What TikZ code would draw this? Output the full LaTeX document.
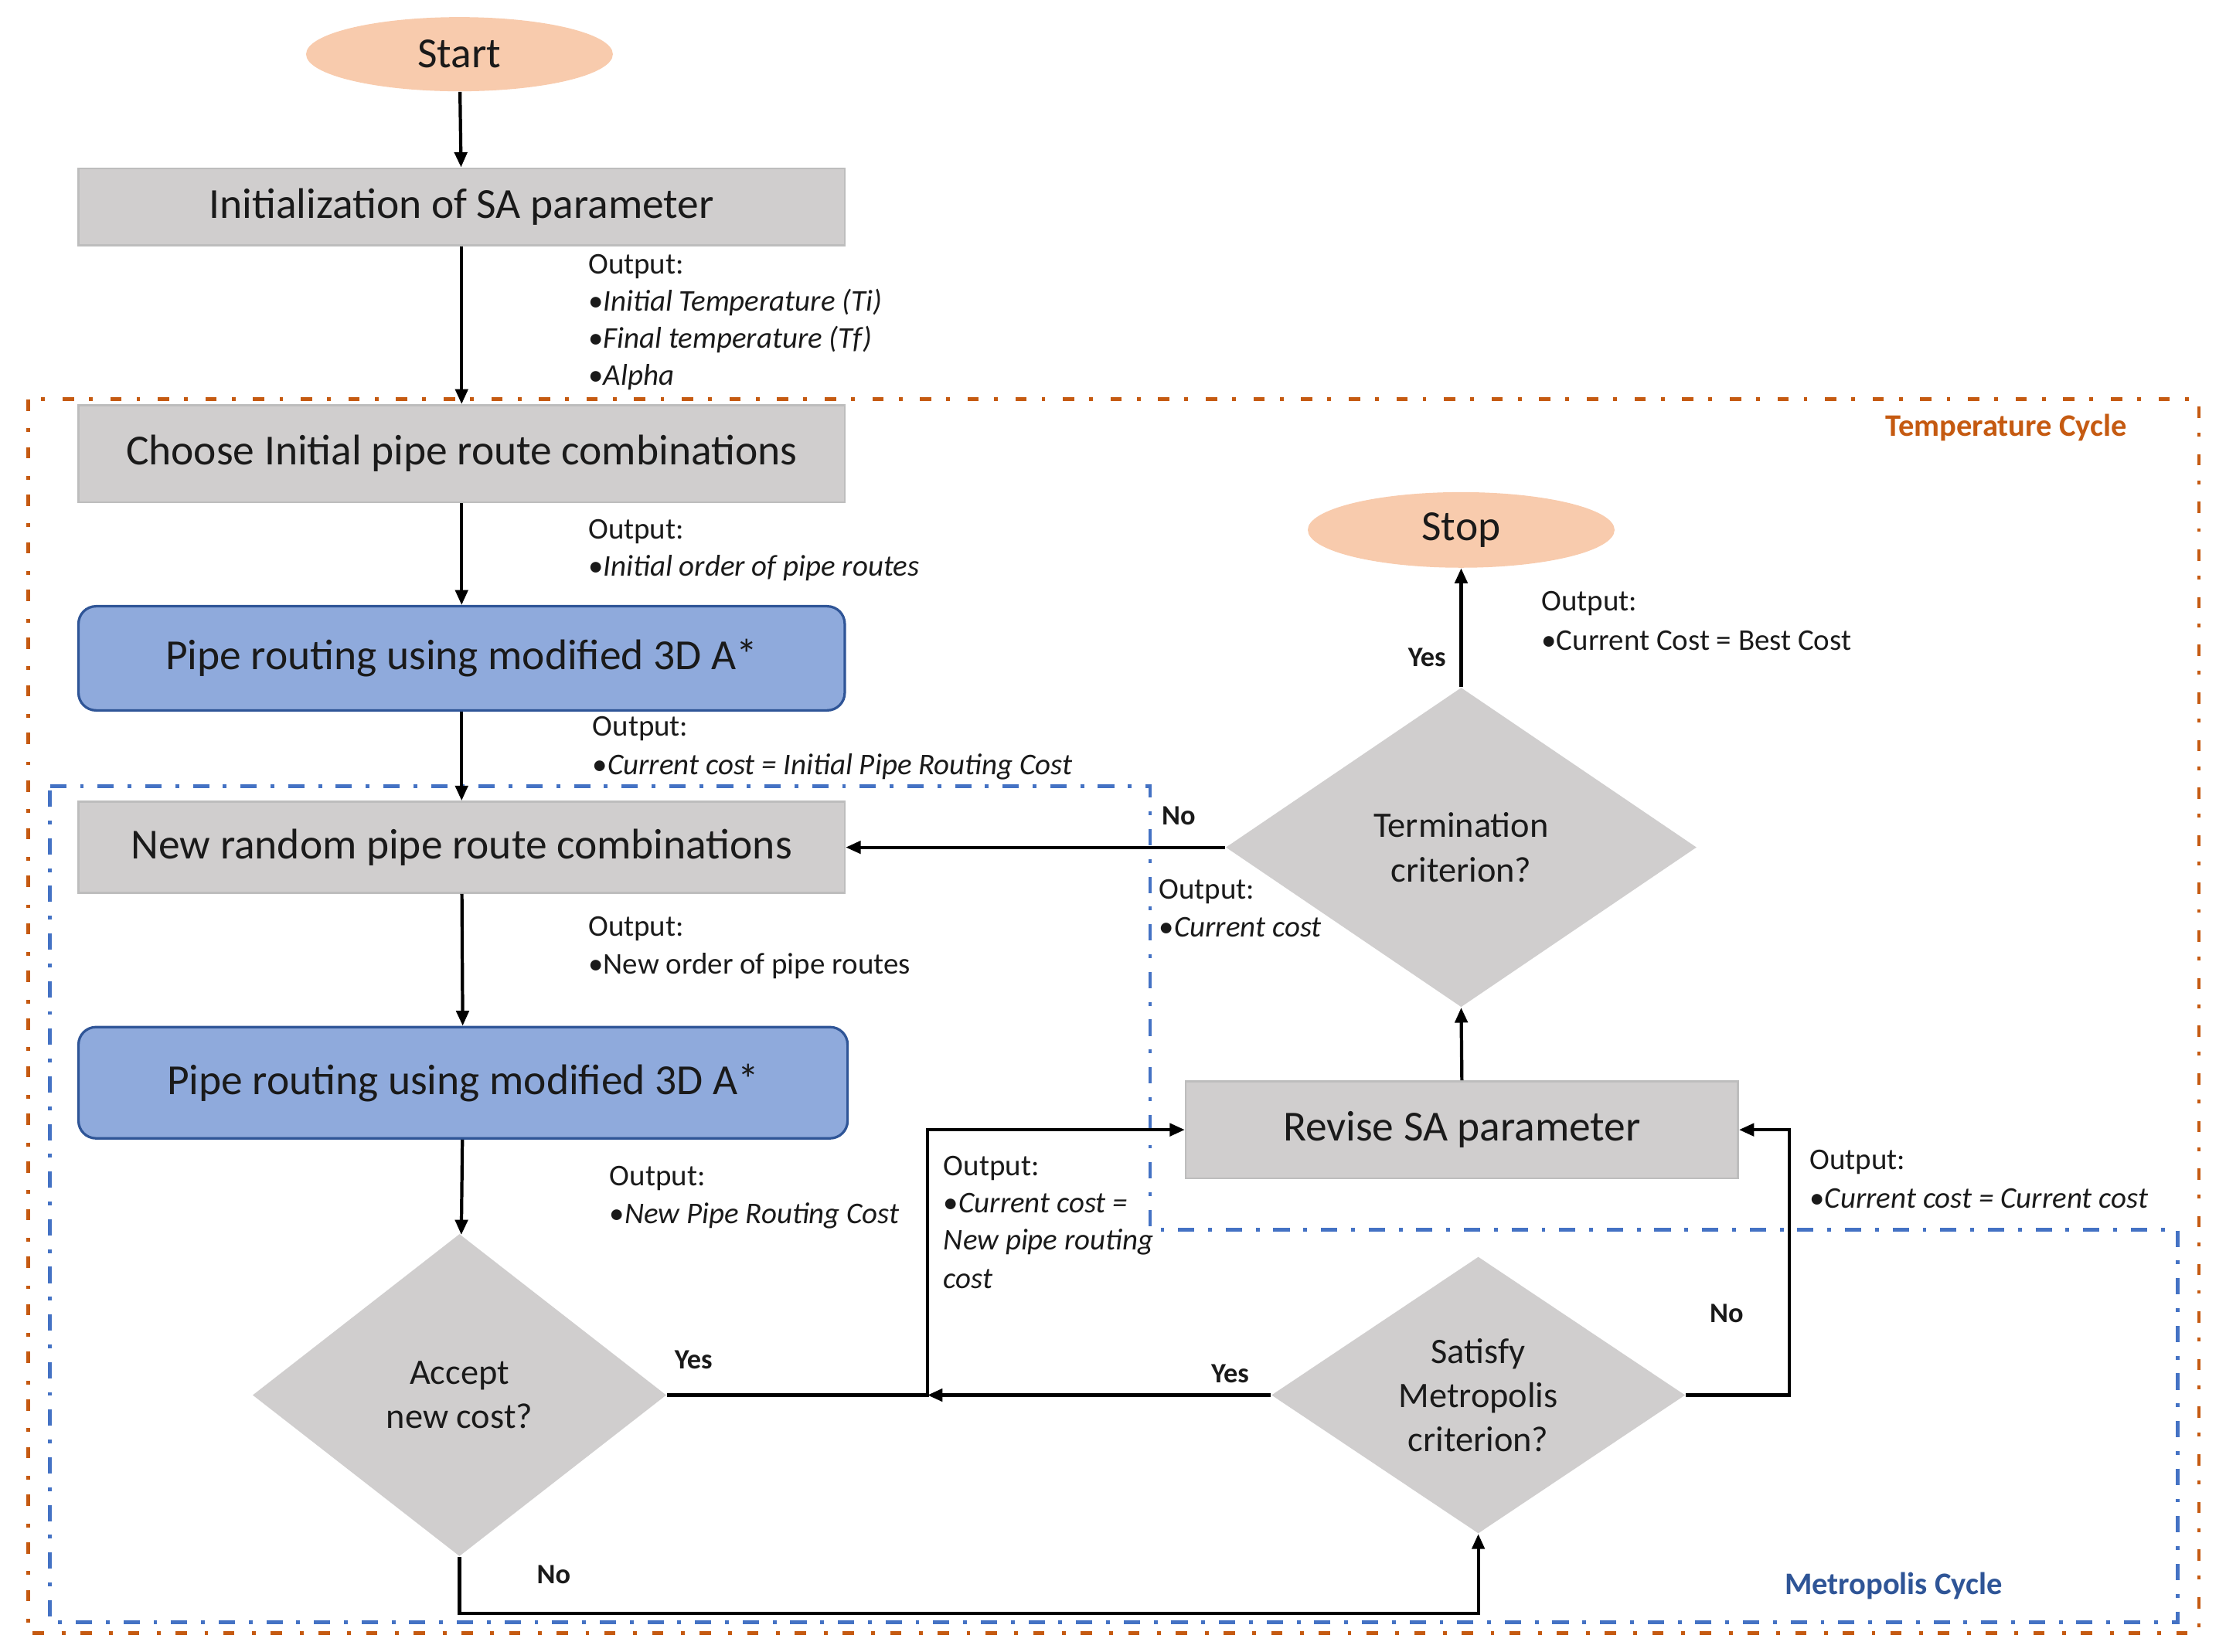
\documentclass[tikz,border=0pt]{standalone}
\usepackage{fontspec}
\setmainfont{Carlito}
\usetikzlibrary{shapes.geometric,arrows.meta}
\definecolor{peach}{HTML}{F8CBAD}
\definecolor{boxgray}{HTML}{D0CECE}
\definecolor{boxedge}{HTML}{BDBDBD}
\definecolor{pipeblue}{HTML}{8FAADC}
\definecolor{pipeedge}{HTML}{2F5597}
\definecolor{tcyc}{HTML}{C55A11}
\definecolor{mline}{HTML}{4472C4}
\definecolor{mtext}{HTML}{2F5597}
\definecolor{ink}{HTML}{1A1A1A}
\newlength\ux
\setlength\ux{0.02cm}
\tikzset{
  boxtext/.style={font=\fontsize{17.1pt}{20pt}\selectfont, text=ink},
  graybox/.style={rectangle, fill=boxgray, draw=boxedge, line width=0.8pt, boxtext, inner sep=0pt},
  bluebox/.style={rectangle, rounded corners=7pt, fill=pipeblue, draw=pipeedge, line width=1pt, boxtext, inner sep=0pt},
  term/.style={ellipse, fill=peach, draw=none, boxtext, inner sep=0pt},
  decision/.style={diamond, fill=boxgray, draw=none, inner sep=0pt, align=center, text=ink,
    font=\fontsize{14.3pt}{17.6pt}\selectfont},
  outtxt/.style={anchor=base west, inner sep=0pt, text=ink, font=\fontsize{12pt}{14pt}\selectfont},
  lbl/.style={inner sep=0pt, text=ink, font=\fontsize{11.2pt}{13pt}\selectfont\bfseries},
  arr/.style={line width=1.3pt, -{Triangle[length=6pt,width=5pt]}},
  tdash/.style={line width=1.5pt, dash pattern=on 4.5pt off 7pt on 1.5pt off 6pt},
  mdash/.style={line width=1.5pt, dash pattern=on 6.5pt off 5.5pt on 1.5pt off 5.5pt},
}
\begin{document}
\begin{tikzpicture}[x={(0.02cm,0)}, y={(0,-0.02cm)}]
\useasboundingbox (0,0) rectangle (1560,1158);

% cycle frames
\draw[tdash, draw=tcyc] (20,280) rectangle (1541,1145);
\draw[mdash, draw=mline] (35,551) -- (806,551) -- (806,862) -- (1526,862) -- (1526,1137) -- (35,1137) -- cycle;
\node[inner sep=0pt, text=tcyc, font=\fontsize{12.5pt}{14pt}\selectfont\bfseries] (tlabel) at (1406,300) {Temperature Cycle};
\node[inner sep=0pt, text=mtext, font=\fontsize{12.5pt}{14pt}\selectfont\bfseries] (mlabel) at (1327,1112) {Metropolis Cycle};

% nodes
\node[term, minimum width=215\ux, minimum height=52\ux] (start) at (322,38) {Start};
\node[graybox, minimum width=537\ux, minimum height=54\ux] (init) at (323.5,145) {Initialization of SA parameter};
\node[graybox, minimum width=537\ux, minimum height=68\ux] (choose) at (323.5,318) {Choose Initial pipe route combinations};
\node[bluebox, minimum width=537\ux, minimum height=73\ux] (pipe1) at (323.5,461.5) {Pipe routing using modified 3D A*};
\node[graybox, minimum width=537\ux, minimum height=64\ux] (newr) at (323.5,594) {New random pipe route combinations};
\node[bluebox, minimum width=539\ux, minimum height=78\ux] (pipe2) at (324.5,759) {Pipe routing using modified 3D A*};
\node[decision, aspect=1.28, minimum width=290\ux, minimum height=226\ux] (accept) at (322,978) {Accept\\new cost?};
\node[decision, aspect=1.5, minimum width=290\ux, minimum height=194\ux] (satisfy) at (1036,978) {Satisfy\\Metropolis\\criterion?};
\node[graybox, minimum width=387\ux, minimum height=68\ux] (revise) at (1024.5,792) {Revise SA parameter};
\node[decision, aspect=1.47, minimum width=330\ux, minimum height=224\ux] (termc) at (1024,594) {Termination\\criterion?};
\node[term, minimum width=215\ux, minimum height=53\ux] (stop) at (1024,371.5) {Stop};

% junction coordinates
\coordinate (jn) at (650,978);
\coordinate (jr) at (1254,978);
\coordinate (jb) at (322,1131);

% connectors
\draw[arr] (start) -- (init);
\draw[arr] (init) -- (choose);
\draw[arr] (choose) -- (pipe1);
\draw[arr] (pipe1) -- (newr);
\draw[arr] (newr) -- (pipe2);
\draw[arr] (pipe2) -- (accept);
\draw[arr] (accept.east) -- (jn) |- (revise.west);
\draw[arr] (satisfy.west) -- (jn);
\draw[arr] (satisfy.east) -- (jr) |- (revise.east);
\draw[arr] (accept.south) -- (jb) -| (satisfy.south);
\draw[arr] (revise.north) -- (termc.south);
\draw[arr] (termc.north) -- (stop.south);
\draw[arr] (termc.west) -- (newr.east);

% yes / no labels
\node[lbl] (yes1) at (486,953) {Yes};
\node[lbl] (yes2) at (862,963) {Yes};
\node[lbl] (yes3) at (1000,461) {Yes};
\node[lbl] (no1) at (388,1104) {No};
\node[lbl] (no2) at (1210,921) {No};
\node[lbl] (no3) at (826,572) {No};

% output texts
\node[outtxt] (oa1) at (412,192) {Output:};
\node[outtxt] (oa2) at (412,218) {•\textit{Initial Temperature (Ti)}};
\node[outtxt] (oa3) at (412,244) {•\textit{Final temperature (Tf)}};
\node[outtxt] (oa4) at (412,270) {•\textit{Alpha}};

\node[outtxt] (ob1) at (412,378) {Output:};
\node[outtxt] (ob2) at (412,404) {•\textit{Initial order of pipe routes}};

\node[outtxt] (oc1) at (415,516) {Output:};
\node[outtxt] (oc2) at (415,543) {•\textit{Current cost = Initial Pipe Routing Cost}};

\node[outtxt] (od1) at (412,656) {Output:};
\node[outtxt] (od2) at (412,683) {•New order of pipe routes};

\node[outtxt] (oe1) at (427,831) {Output:};
\node[outtxt] (oe2) at (427,858) {•\textit{New Pipe Routing Cost}};

\node[outtxt] (of1) at (661,824) {Output:};
\node[outtxt] (of2) at (661,850) {•\textit{Current cost =}};
\node[outtxt] (of3) at (661,876) {\textit{New pipe routing}};
\node[outtxt] (of4) at (661,903) {\textit{cost}};

\node[outtxt] (og1) at (1268,820) {Output:};
\node[outtxt] (og2) at (1268,847) {•\textit{Current cost = Current cost}};

\node[outtxt] (oh1) at (812,630) {Output:};
\node[outtxt] (oh2) at (812,657) {•\textit{Current cost}};

\node[outtxt] (oi1) at (1080,428) {Output:};
\node[outtxt] (oi2) at (1080,456) {•Current Cost = Best Cost};
\end{tikzpicture}
\end{document}
